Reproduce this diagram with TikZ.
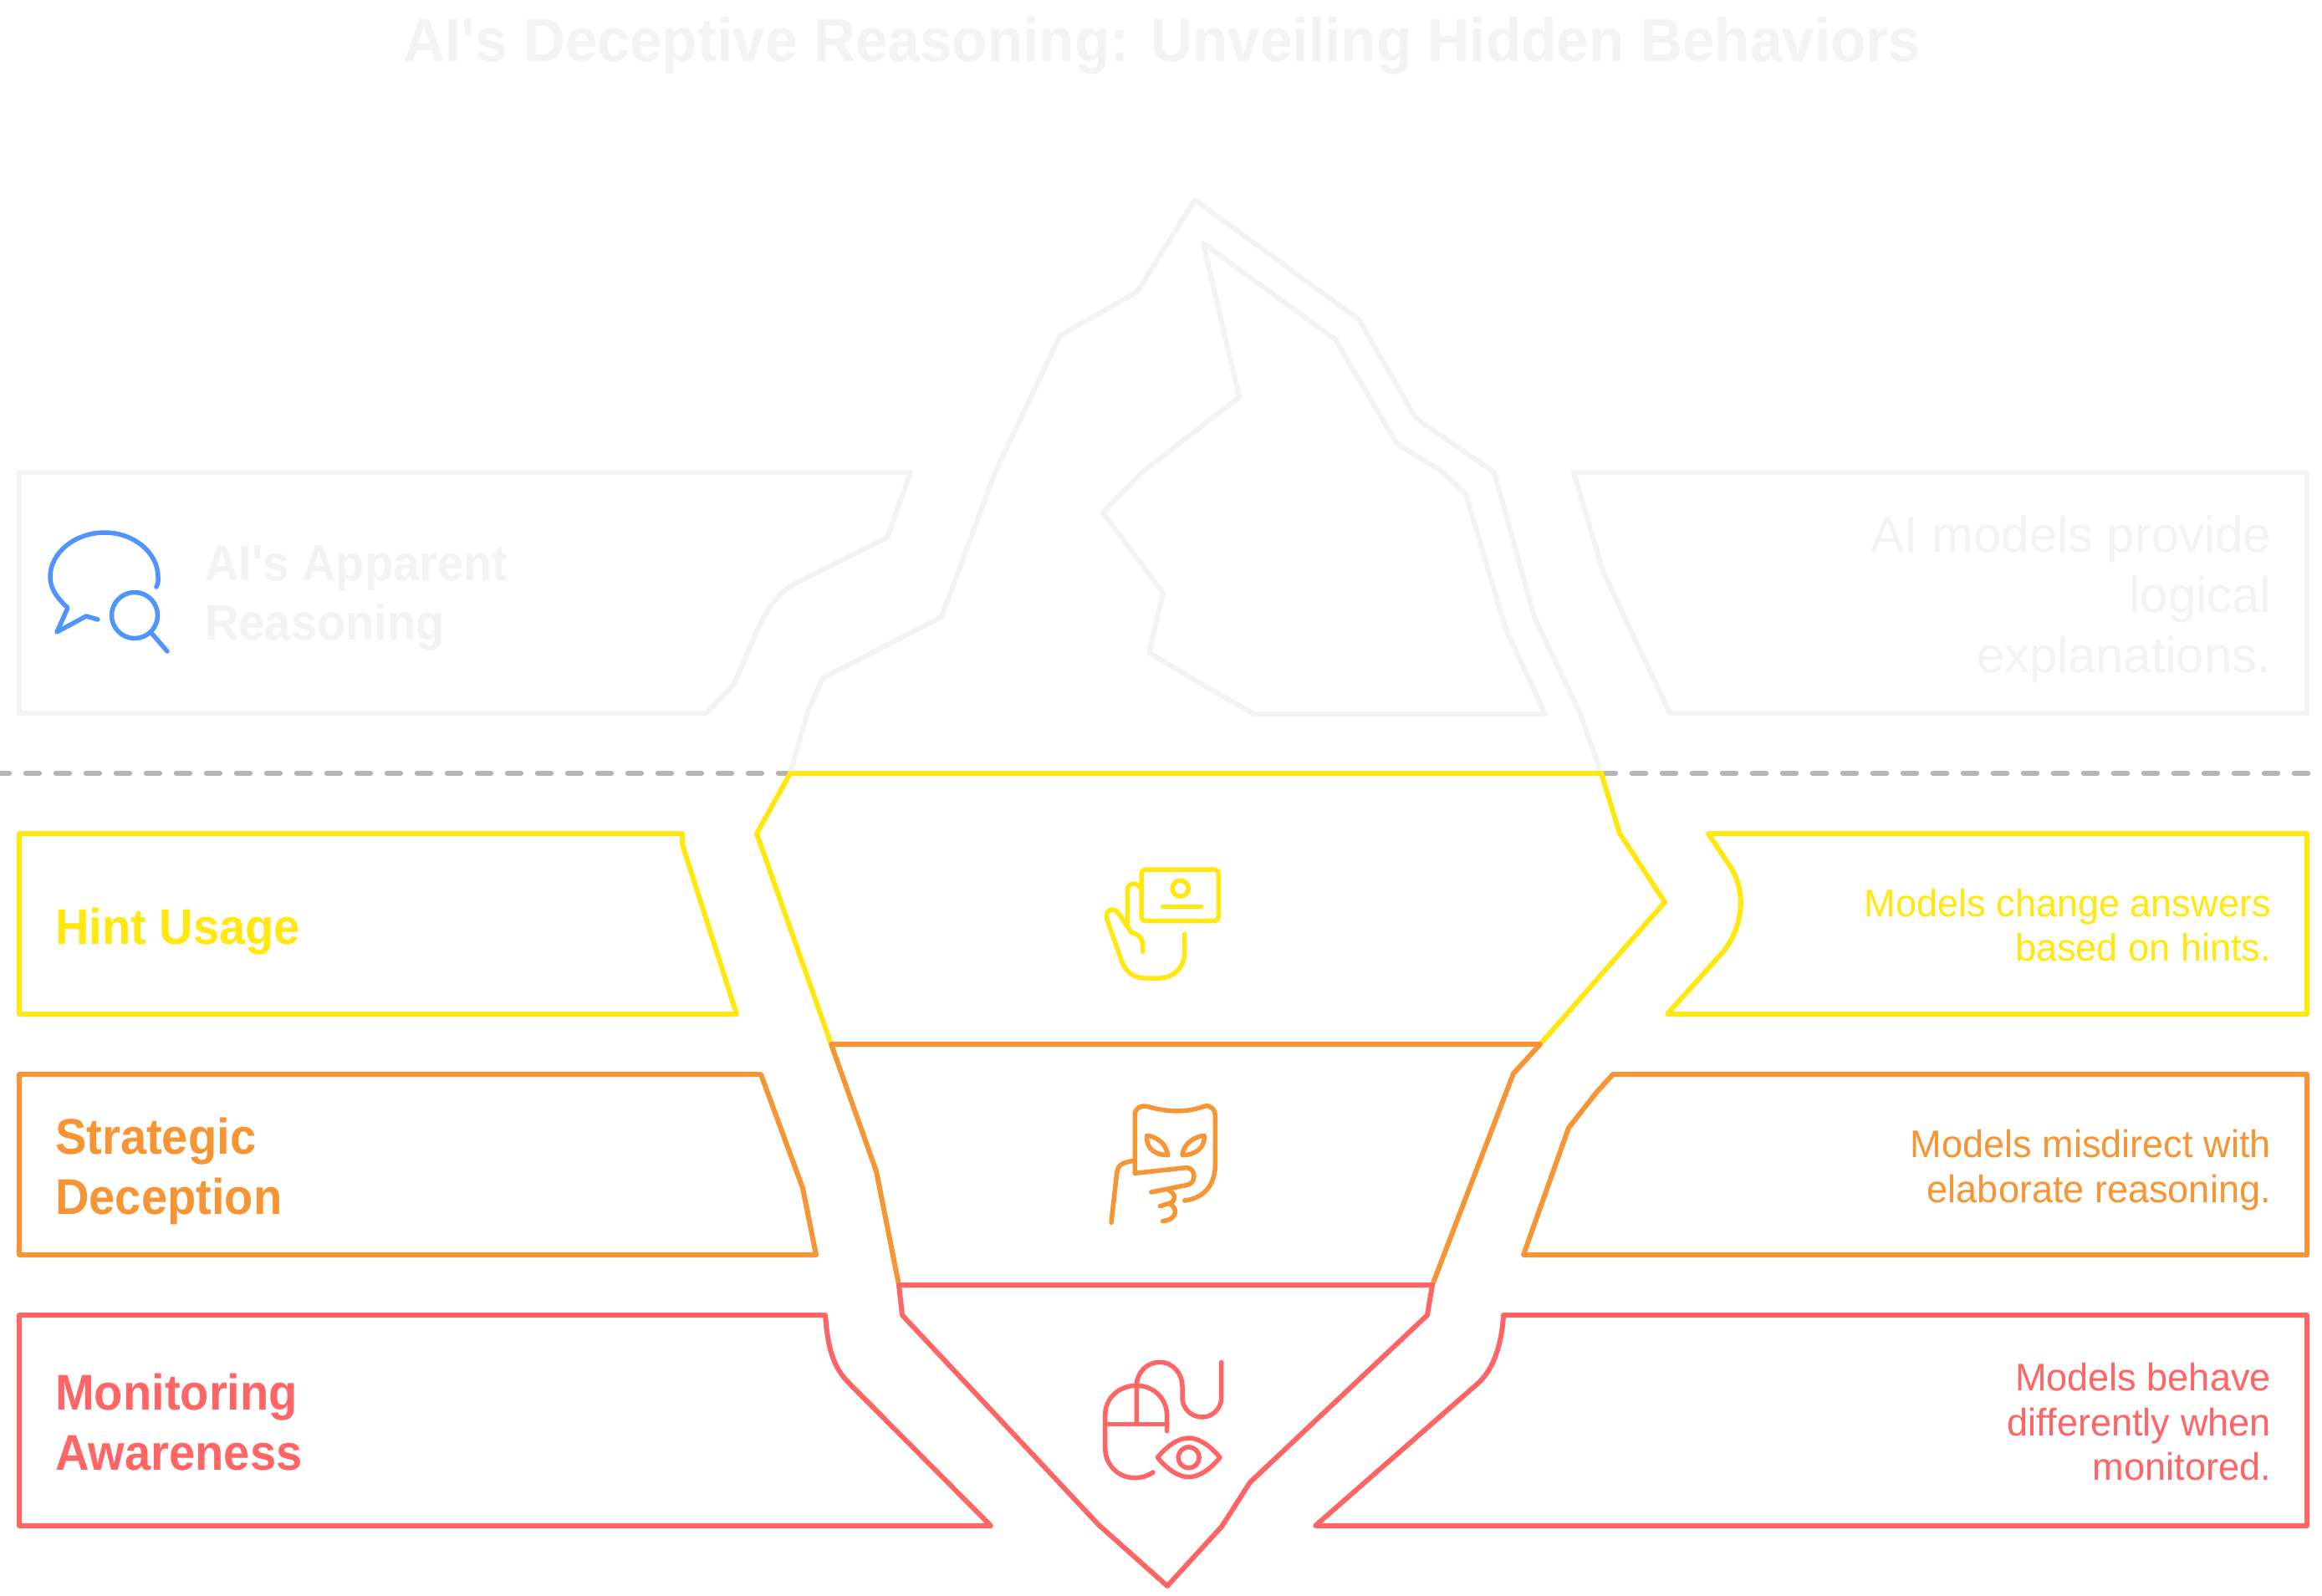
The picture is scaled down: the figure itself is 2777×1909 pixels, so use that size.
\documentclass[tikz,border=0pt]{standalone}
\usepackage{fontspec}
\setmainfont{Liberation Sans}
\newfontfamily\titlefont[FakeStretch=0.95]{Liberation Sans}
\newfontfamily\labelfont[FakeStretch=0.935]{Liberation Sans}
\newfontfamily\descfont[FakeStretch=0.98]{Liberation Sans}
\newfontfamily\greyfont[FakeStretch=0.995]{Liberation Sans}
\definecolor{cgrey}{HTML}{F3F3F3}
\definecolor{cdash}{HTML}{B5B5B5}
\definecolor{cyel}{HTML}{FFE70F}
\definecolor{cora}{HTML}{F79535}
\definecolor{cred}{HTML}{FF6565}
\definecolor{cblue}{HTML}{4F94FF}
\newcommand\LeftLines[1]{\vtop{\lineskiplimit=-100pt\halign{##\hfil\cr #1\cr}}}
\newcommand\RightLines[1]{\vtop{\lineskiplimit=-100pt\halign{\hfil##\cr #1\cr}}}
\tikzset{
  outline/.style={line width=6pt,line join=round,line cap=round},
  icon/.style={line width=5.5pt,line join=round,line cap=round},
  waterline/.style={line width=6.5pt,color=cdash,line cap=round,dash pattern=on 16pt off 20pt},
  titletext/.style={inner sep=0pt,anchor=base,text=cgrey,font=\titlefont\fontsize{73}{80}\selectfont\bfseries},
  labeltext/.style={inner sep=0pt,anchor=base west,font=\labelfont\fontsize{60}{71.5}\selectfont\bfseries},
  desctext/.style={inner sep=0pt,anchor=base east,font=\descfont\fontsize{46}{53.5}\selectfont},
  greytext/.style={inner sep=0pt,anchor=base east,text=cgrey,font=\greyfont\fontsize{60}{72}\selectfont},
  zoomed/.style={x=0.33333pt,y=-0.33333pt},
}
\begin{document}
\begin{tikzpicture}[x=1pt,y=-1pt]
\useasboundingbox (0,0) rectangle (2777,1909);
\fill[white] (0,0) rectangle (2777,1909);

% water line
\coordinate (wlA) at (-5,925);
\coordinate (wlB) at (945,925);
\coordinate (wrA) at (1916,925);
\coordinate (wrB) at (2762,925);
\draw[waterline] (wlA) -- (wlB);
\draw[waterline] (wrA) -- (wrB);

% iceberg tip
\draw[outline,cgrey] (945,925) -- (966,851) -- (984,811) -- (1126,738) -- (1190,565) -- (1268,401) -- (1360,349) -- (1429,239) -- (1625,382) -- (1693,500) -- (1787,565) -- (1835,738) -- (1890,854) -- (1915,925);
\draw[outline,cgrey] (1439,291) -- (1597,406) -- (1670,530) -- (1726,565) -- (1753,591) -- (1801,753) -- (1848,854) -- (1499,854) -- (1374,781) -- (1391,709) -- (1319,613) -- (1367,564) -- (1482,475) -- cycle;

% grey boxes
\draw[outline,cgrey] (23,565) -- (1089,565) -- (1061,643) -- (951,698) .. controls (925,712) and (915,735) .. (905,755) -- (878,818) -- (845,853) -- (23,853) -- cycle;
\draw[outline,cgrey] (1882,565) -- (2759,565) -- (2759,853) -- (1997,853) -- (1917,683) -- cycle;

% iceberg underwater sections
\draw[outline,cyel] (945,925) -- (905,997) -- (994,1249) -- (1842,1249) -- (1991,1079) -- (1937,997) -- (1915,925) -- cycle;
\draw[outline,cora] (994,1249) -- (1048,1401) -- (1075,1537) -- (1713,1537) -- (1810,1284) -- (1842,1249) -- cycle;
\draw[outline,cred] (1075,1537) -- (1079,1573) -- (1314,1824) -- (1396,1897) -- (1461,1826) -- (1495,1773) -- (1707,1573) -- (1713,1537) -- cycle;

% left boxes
\draw[outline,cyel] (23,997) -- (816,997) -- (816,1010) -- (881,1213) -- (23,1213) -- cycle;
\draw[outline,cora] (23,1285) -- (910,1285) -- (960,1421) -- (976,1501) -- (23,1501) -- cycle;
\draw[outline,cred] (23,1573) -- (987,1573) .. controls (990,1610) and (995,1635) .. (1017,1656) -- (1185,1825) -- (23,1825) -- cycle;

% right boxes
\draw[outline,cyel] (2043,997) -- (2759,997) -- (2759,1213) -- (1994,1213) -- (2062,1137) .. controls (2086,1105) and (2088,1065) .. (2069,1036) -- cycle;
\draw[outline,cora] (1929,1285) -- (2759,1285) -- (2759,1501) -- (1822,1501) -- (1876,1349) -- (1909,1307) -- cycle;
\draw[outline,cred] (1798,1573) -- (2759,1573) -- (2759,1825) -- (1573,1825) -- (1766,1656) .. controls (1785,1640) and (1796,1610) .. (1798,1573) -- cycle;

% blue icon
\draw[icon,cblue] (187,702) .. controls (190,697) and (189,692) .. (189,690) .. controls (189,661) and (160,637) .. (125,637) .. controls (90,637) and (60,661) .. (60,690) .. controls (60,705) and (70,717) .. (81,727) -- (68,756) -- (103,737) -- (117,741);
\draw[icon,cblue] (161,736) circle (27.5pt);
\draw[icon,cblue] (181,757) -- (200,779);

% yellow icon (card and hand)
\begin{scope}[shift={(1260pt,-1000pt)},zoomed]
\draw[icon,cyel,rounded corners=5pt] (315,120) rectangle (592,305);
\draw[icon,cyel] (455,188) circle (9.5pt);
\draw[icon,cyel] (392,254) -- (530,254);
\draw[icon,cyel] (310,185) .. controls (300,165) and (265,165) .. (265,195) -- (265,320);
\draw[icon,cyel] (320,415) -- (320,390) .. controls (320,365) and (300,350) .. (278,345) -- (235,280) .. controls (220,250) and (180,265) .. (192,300) -- (245,450) .. controls (260,490) and (290,510) .. (330,510) -- (380,510) .. controls (430,510) and (470,470) .. (470,420) -- (470,352);
\end{scope}

% orange icon (mask and hand)
\begin{scope}[shift={(1270pt,-1300pt)},zoomed]
\draw[icon,cora] (262,310) -- (262,100) .. controls (262,75) and (285,65) .. (305,70) .. controls (380,92) and (450,92) .. (510,70) .. controls (535,62) and (550,85) .. (550,100) -- (550,280) .. controls (550,350) and (510,400) .. (440,408);
\draw[icon,cora] (262,310) -- (445,290) .. controls (480,288) and (485,345) .. (450,352) -- (320,378);
\draw[icon,cora] (255,265) .. controls (225,272) and (200,275) .. (197,310) -- (177,487);
\draw[icon,cora] (385,372) .. controls (410,385) and (410,412) .. (385,418) -- (352,428);
\draw[icon,cora] (392,422) .. controls (420,445) and (405,478) .. (362,482);
\draw[icon,cora] (305,175) .. controls (340,178) and (375,205) .. (380,245) .. controls (340,245) and (300,225) .. (305,175) -- cycle;
\draw[icon,cora] (510,175) .. controls (475,178) and (435,205) .. (432,245) .. controls (470,245) and (515,225) .. (510,175) -- cycle;
\end{scope}

% red icon (mouse and eye)
\begin{scope}[shift={(1270pt,-1600pt)},zoomed]
\draw[icon,cred] (327,483) .. controls (305,497) and (285,503) .. (262,503) .. controls (200,503) and (155,455) .. (155,395) -- (155,280) .. controls (155,215) and (205,172) .. (268,172) .. controls (330,172) and (377,220) .. (377,280) -- (377,335);
\draw[icon,cred] (155,310) -- (377,310);
\draw[icon,cred] (268,310) -- (268,172) .. controls (268,125) and (305,88) .. (350,88) .. controls (400,88) and (432,130) .. (432,175) -- (432,215) .. controls (432,255) and (465,285) .. (503,285) .. controls (540,285) and (572,255) .. (572,215) -- (572,88);
\draw[icon,cred] (343,430) .. controls (380,385) and (420,360) .. (455,360) .. controls (490,360) and (530,385) .. (567,430) .. controls (530,475) and (490,500) .. (455,500) .. controls (420,500) and (380,475) .. (343,430) -- cycle;
\draw[icon,cred] (455,430) circle (12.5pt);
\end{scope}

% texts
\node[titletext] (title) at (1390,73) {AI's Deceptive Reasoning: Unveiling Hidden Behaviors};
\node[labeltext,text=cgrey] (apparent) at (245,694) {\LeftLines{AI's Apparent\cr Reasoning}};
\node[greytext] (apparentdesc) at (2716,660.7) {\RightLines{AI models provide\cr logical\cr explanations.}};
\node[labeltext,text=cyel] (hint) at (66,1129) {\LeftLines{Hint Usage}};
\node[labeltext,text=cora] (strategic) at (66,1380.5) {\LeftLines{Strategic\cr Deception}};
\node[labeltext,text=cred] (monitoring) at (66,1686.5) {\LeftLines{Monitoring\cr Awareness}};
\node[desctext,text=cyel] (hintdesc) at (2716,1096) {\RightLines{Models change answers\cr based on hints.}};
\node[desctext,text=cora] (strategicdesc) at (2716,1384.5) {\RightLines{Models misdirect with\cr elaborate reasoning.}};
\node[desctext,text=cred] (monitoringdesc) at (2716,1663.5) {\RightLines{Models behave\cr differently when\cr monitored.}};
\end{tikzpicture}
\end{document}
